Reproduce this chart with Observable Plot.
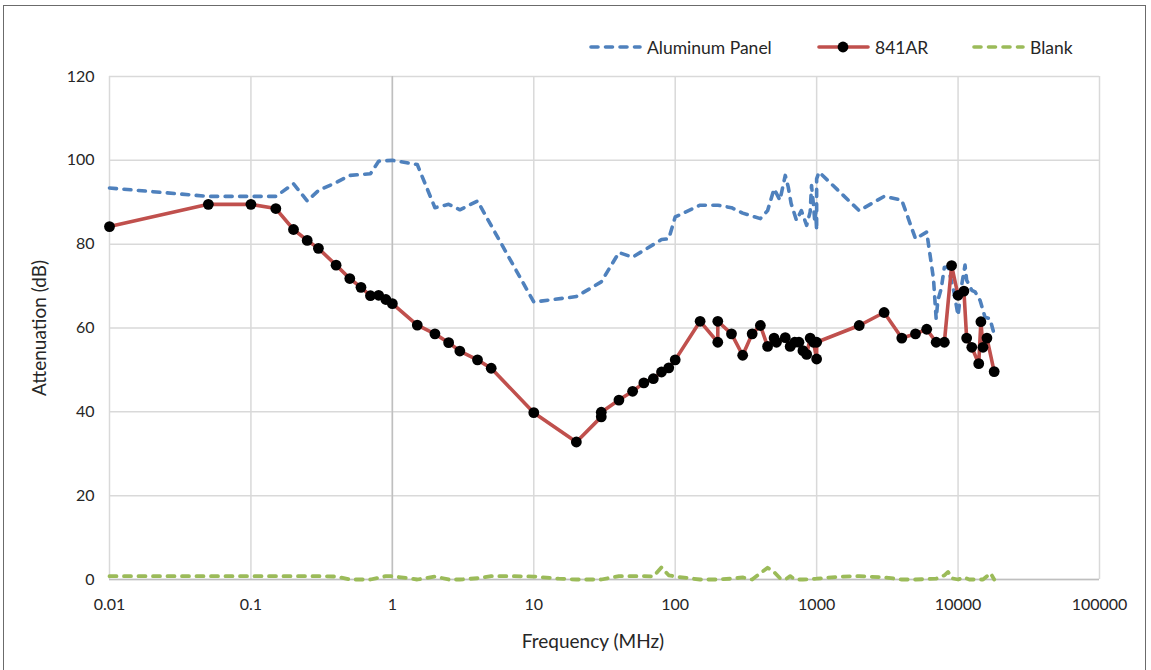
<!DOCTYPE html>
<html><head><meta charset="utf-8">
<script src="https://cdn.jsdelivr.net/npm/d3@7"></script>
<script src="https://cdn.jsdelivr.net/npm/@observablehq/plot@0.6"></script>
<style>
body{margin:0;background:#fff;font-family:Lato,"Open Sans",sans-serif;}
#wrap{position:relative;width:1151px;height:670px;overflow:hidden;background:#fff;}
#frame{position:absolute;left:3px;top:5px;width:1143px;height:720px;border:1px solid #6b6b6b;box-sizing:border-box;}
#chart{position:absolute;left:0;top:0;}
.ttl{position:absolute;color:#262626;font-size:19px;white-space:nowrap;}
#ytitle{left:38px;top:328px;transform:translate(-50%,-50%) rotate(-90deg);}
#xtitle{left:593px;top:640px;transform:translate(-50%,-50%);}
.leg{position:absolute;top:37px;height:20px;display:flex;align-items:center;font-size:17.5px;color:#262626;white-space:nowrap;}
.leg svg{margin-right:5px;}
</style></head>
<body>
<div id="wrap">
  <div id="frame"></div>
  <div id="chart"></div>
  <div class="ttl" id="ytitle">Attenuation (dB)</div>
  <div class="ttl" id="xtitle">Frequency (MHz)</div>
  <div id="legend"></div>
</div>
<script>
// ---- Data ----
const seriesNames = ["Aluminum Panel", "841AR", "Blank"];
const seriesColors = ["#4f81bd", "#c0504d", "#9bbb59"];

const alFreq = [0.01,0.05,0.1,0.15,0.2,0.25,0.3,0.4,0.5,0.7,0.8,1,1.5,2,2.5,3,4,10,20,30,40,50,80,90,100,150,200,250,300,400,450,500,550,600,630,660,720,780,850,900,920,950,970,985,1000,1000,1040,2000,3000,4000,5000,6000,6700,7000,7200,7600,8000,8500,9300,10000,10600,11200,11500,12500,13200,14300,15500,16800,18000];
const alVal  = [93.4,91.4,91.4,91.4,94.4,90.3,92.8,94.7,96.4,96.8,99.8,100,99,88.7,89.5,88.2,90.3,66.2,67.5,71,78,76.9,81.1,81.3,86.5,89.3,89.3,88.7,87.4,86.1,88,93.2,90.5,96.4,93.6,89.7,85.7,88,84.5,87.7,94,89.3,85.3,87.7,83.3,95.6,97.2,88,91.4,90.5,81.3,82.9,71.8,62.2,66.6,69.4,74.5,74.5,69,63,70.2,75,71.4,69,68.6,66.6,62.6,62.2,58.5];

const arFreq = [0.01,0.05,0.1,0.15,0.2,0.25,0.3,0.4,0.5,0.6,0.7,0.8,0.9,1,1.5,2,2.5,3,4,5,10,20,30,30,40,50,60,70,80,90,100,150,200,200,250,300,350,400,450,500,520,600,650,700,750,800,850,900,950,1000,1000,2000,3000,4000,5000,6000,7000,8000,9000,10000,11000,11500,12500,14000,14500,15000,16000,18000];
const arVal  = [84.2,89.5,89.5,88.5,83.5,80.9,79,75,71.8,69.7,67.7,67.8,66.8,65.8,60.7,58.6,56.5,54.5,52.4,50.4,39.8,32.8,38.8,39.9,42.8,44.9,46.9,47.9,49.5,50.5,52.4,61.6,56.6,61.6,58.6,53.5,58.6,60.6,55.6,57.6,56.6,57.7,55.6,56.6,56.6,54.6,53.7,57.6,56.6,52.6,56.6,60.6,63.7,57.6,58.6,59.7,56.6,56.6,74.9,67.8,68.8,57.6,55.4,51.5,61.5,55.4,57.6,49.6];

const blFreq = [0.01,0.05,0.1,0.15,0.2,0.25,0.3,0.4,0.5,0.7,0.9,1,1.5,2,2.5,3,4,5,7,10,15,20,30,40,50,60,70,80,90,100,150,200,250,300,350,400,450,500,550,600,650,700,800,1000,1500,2000,3000,4000,5000,7000,8000,8500,9000,10000,11000,12000,15000,17000,18000];
const blVal  = [0.8,0.8,0.8,0.8,0.8,0.8,0.8,0.7,0,0,0.8,0.8,0,0.7,0,0,0.3,0.8,0.8,0.7,0.2,0,0,0.8,0.8,0.8,0.7,2.9,1,0.7,0,0,0.2,0.5,0,1.5,2.8,1.8,0.3,0,0.8,0,0,0.2,0.7,0.8,0.5,0,0,0.2,1,1.8,0.3,0,0.5,0,0,1.5,0];

const xTicks = [0.01,0.1,1,10,100,1000,10000,100000];
const xTickLabels = ["0.01","0.1","1","10","100","1000","10000","100000"];
const yTicks = [0,20,40,60,80,100,120];

// ---- Build tables ----
const toRows = (f, v) => f.map((x, i) => ({x, y: v[i]}));
const al = toRows(alFreq, alVal);
const ar = toRows(arFreq, arVal);
const bl = toRows(blFreq, blVal);
const xLabel = new Map(xTicks.map((t, i) => [t, xTickLabels[i]]));

const chart = Plot.plot({
  width: 1151, height: 670,
  marginLeft: 109, marginRight: 52, marginTop: 76, marginBottom: 91,
  style: {fontFamily: "Lato, 'Open Sans', sans-serif", fontSize: "16px", color: "#262626", background: "transparent"},
  x: {type: "log", domain: [0.01, 100000]},
  y: {domain: [0, 120]},
  marks: [
    Plot.gridY(yTicks, {stroke: "#d9d9d9", strokeOpacity: 1, strokeWidth: 1.5}),
    Plot.gridX(xTicks, {stroke: "#d9d9d9", strokeOpacity: 1, strokeWidth: 1.5}),
    Plot.ruleX([1], {stroke: "#bfbfbf", strokeWidth: 1.5}),
    Plot.ruleY([0], {stroke: "#bfbfbf", strokeWidth: 1.5}),
    Plot.axisX(xTicks, {tickSize: 0, tickPadding: 19, tickFormat: d => xLabel.get(d), label: null}),
    Plot.axisY(yTicks, {tickSize: 0, tickPadding: 15, label: null}),
    Plot.line(al, {x: "x", y: "y", stroke: seriesColors[0], strokeWidth: 3.6, strokeDasharray: "7,7.5", strokeLinecap: "round"}),
    Plot.line(ar, {x: "x", y: "y", stroke: seriesColors[1], strokeWidth: 3.6}),
    Plot.dot(ar, {x: "x", y: "y", r: 5.4, fill: "#000", stroke: "none"}),
    Plot.line(bl, {x: "x", y: "y", stroke: seriesColors[2], strokeWidth: 3.8, strokeDasharray: "7,7.5", strokeLinecap: "round"})
  ]
});
document.getElementById("chart").appendChild(chart);

// ---- Legend ----
const legPos = [589, 817, 972];
const legend = document.getElementById("legend");
seriesNames.forEach((name, i) => {
  const d = document.createElement("div");
  d.className = "leg";
  d.style.left = legPos[i] + "px";
  const dash = i === 1 ? "" : ` stroke-dasharray="7,7.5"`;
  const dot = i === 1 ? `<circle cx="26" cy="10" r="5.4" fill="#000"/>` : "";
  d.innerHTML = `<svg width="53" height="20"><line x1="2" y1="10" x2="51" y2="10" stroke="${seriesColors[i]}" stroke-width="3.6" stroke-linecap="round"${dash}/>${dot}</svg><span>${name}</span>`;
  legend.appendChild(d);
});
</script>
</body></html>
